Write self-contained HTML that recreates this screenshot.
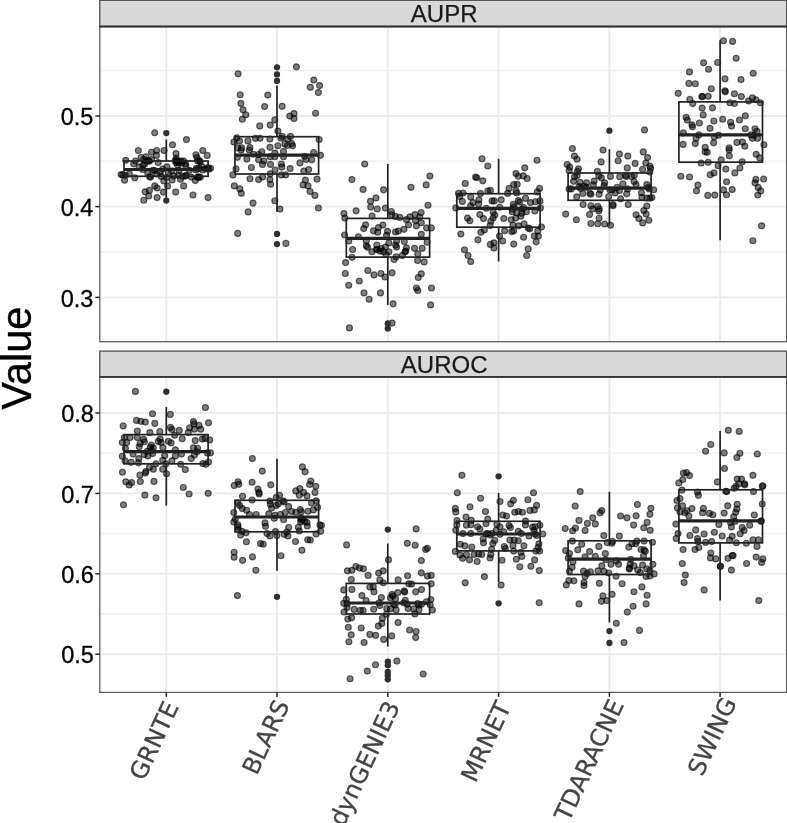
<!DOCTYPE html>
<html lang="en"><head><meta charset="utf-8"><title>AUPR / AUROC boxplots</title>
<style>html,body{margin:0;padding:0;background:#fff}svg{display:block}.ax{font-family:"Liberation Sans",Arial,Helvetica,sans-serif;fill:#000}.xl{font-family:"DejaVu Sans","Liberation Sans",sans-serif;fill:#444;font-size:24px;stroke:#444;stroke-width:.3}.gM{stroke:#ebebeb;stroke-width:1.9;fill:none}.gm{stroke:#f1f1f1;stroke-width:1.5;fill:none}.bx{stroke:#222;stroke-width:1.7;fill:none}.md{stroke:#222;stroke-width:3.2;fill:none}.pt{fill:#000;fill-opacity:.5;stroke:#000;stroke-opacity:.58;stroke-width:1.15}.ol{fill:#303030;stroke:none}.tk{stroke:#262626;stroke-width:1.5}</style></head><body>
<svg width="787" height="823" viewBox="0 0 787 823">
<rect width="787" height="823" fill="#fff"/>
<clipPath id="ca"><rect x="99.8" y="26.5" width="686.8000000000001" height="315.2"/></clipPath>
<g clip-path="url(#ca)">
<path class="gm" d="M99.8 252.0H786.6"/>
<path class="gm" d="M99.8 161.3H786.6"/>
<path class="gm" d="M99.8 70.6H786.6"/>
<path class="gM" d="M99.8 297.4H786.6"/>
<path class="gM" d="M99.8 206.6H786.6"/>
<path class="gM" d="M99.8 116.0H786.6"/>
<path class="gM" d="M166.3 26.5V341.7"/>
<path class="gM" d="M277.0 26.5V341.7"/>
<path class="gM" d="M387.8 26.5V341.7"/>
<path class="gM" d="M498.6 26.5V341.7"/>
<path class="gM" d="M609.4 26.5V341.7"/>
<path class="gM" d="M720.1 26.5V341.7"/>
<g class="pt"><circle cx="154.7" cy="132.7" r="3"/><circle cx="186.5" cy="139.6" r="3"/><circle cx="172.5" cy="144.7" r="3"/><circle cx="138.3" cy="150.5" r="3"/><circle cx="151.5" cy="152.2" r="3"/><circle cx="156.7" cy="150.5" r="3"/><circle cx="164.1" cy="150.5" r="3"/><circle cx="176.0" cy="153.6" r="3"/><circle cx="202.8" cy="150.5" r="3"/><circle cx="207.2" cy="155.4" r="3"/><circle cx="196.0" cy="154.7" r="3"/><circle cx="197.0" cy="157.5" r="3"/><circle cx="141.1" cy="157.5" r="3"/><circle cx="145.9" cy="156.8" r="3"/><circle cx="156.4" cy="155.4" r="3"/><circle cx="176.3" cy="158.2" r="3"/><circle cx="125.7" cy="160.3" r="3"/><circle cx="135.5" cy="161.0" r="3"/><circle cx="143.8" cy="159.6" r="3"/><circle cx="151.5" cy="159.6" r="3"/><circle cx="183.7" cy="161.0" r="3"/><circle cx="197.7" cy="161.0" r="3"/><circle cx="121.1" cy="174.6" r="3"/><circle cx="124.6" cy="180.2" r="3"/><circle cx="134.8" cy="177.8" r="3"/><circle cx="150.6" cy="177.1" r="3"/><circle cx="163.8" cy="181.0" r="3"/><circle cx="172.1" cy="179.9" r="3"/><circle cx="180.5" cy="179.2" r="3"/><circle cx="195.3" cy="180.6" r="3"/><circle cx="191.4" cy="177.1" r="3"/><circle cx="167.6" cy="185.9" r="3"/><circle cx="154.7" cy="185.9" r="3"/><circle cx="157.1" cy="188.0" r="3"/><circle cx="183.7" cy="185.9" r="3"/><circle cx="145.2" cy="191.8" r="3"/><circle cx="149.4" cy="190.4" r="3"/><circle cx="163.4" cy="192.1" r="3"/><circle cx="175.7" cy="192.1" r="3"/><circle cx="148.7" cy="196.0" r="3"/><circle cx="143.8" cy="200.2" r="3"/><circle cx="157.1" cy="197.6" r="3"/><circle cx="193.0" cy="195.0" r="3"/><circle cx="208.1" cy="197.6" r="3"/><circle cx="142.8" cy="169.5" r="3"/><circle cx="154.6" cy="170.6" r="3"/><circle cx="177.5" cy="161.1" r="3"/><circle cx="122.7" cy="174.7" r="3"/><circle cx="144.7" cy="164.1" r="3"/><circle cx="210.6" cy="168.2" r="3"/><circle cx="196.4" cy="168.3" r="3"/><circle cx="178.7" cy="162.6" r="3"/><circle cx="178.3" cy="175.2" r="3"/><circle cx="168.3" cy="173.0" r="3"/><circle cx="181.6" cy="161.1" r="3"/><circle cx="189.4" cy="170.3" r="3"/><circle cx="148.5" cy="160.5" r="3"/><circle cx="199.0" cy="168.3" r="3"/><circle cx="185.8" cy="175.4" r="3"/><circle cx="185.4" cy="176.1" r="3"/><circle cx="156.8" cy="174.0" r="3"/><circle cx="161.3" cy="176.4" r="3"/><circle cx="200.2" cy="161.7" r="3"/><circle cx="133.7" cy="163.8" r="3"/><circle cx="207.9" cy="167.6" r="3"/><circle cx="177.6" cy="165.3" r="3"/><circle cx="166.9" cy="166.8" r="3"/><circle cx="152.9" cy="170.2" r="3"/><circle cx="173.8" cy="175.8" r="3"/><circle cx="182.5" cy="176.3" r="3"/><circle cx="198.1" cy="177.3" r="3"/><circle cx="181.6" cy="162.9" r="3"/><circle cx="198.5" cy="176.9" r="3"/><circle cx="202.5" cy="170.0" r="3"/><circle cx="185.4" cy="163.7" r="3"/><circle cx="195.9" cy="170.0" r="3"/><circle cx="147.0" cy="161.1" r="3"/><circle cx="197.9" cy="177.3" r="3"/><circle cx="129.4" cy="174.0" r="3"/><circle cx="158.2" cy="162.6" r="3"/><circle cx="147.8" cy="173.5" r="3"/><circle cx="199.6" cy="160.8" r="3"/><circle cx="176.5" cy="160.8" r="3"/><circle cx="185.8" cy="165.8" r="3"/><circle cx="200.3" cy="177.2" r="3"/><circle cx="166.7" cy="177.5" r="3"/><circle cx="149.2" cy="161.3" r="3"/><circle cx="175.2" cy="160.5" r="3"/><circle cx="139.2" cy="167.1" r="3"/><circle cx="176.1" cy="162.7" r="3"/><circle cx="125.3" cy="175.2" r="3"/><circle cx="149.6" cy="176.8" r="3"/><circle cx="201.8" cy="166.6" r="3"/><circle cx="162.7" cy="169.1" r="3"/><circle cx="179.1" cy="170.4" r="3"/><circle cx="171.6" cy="170.9" r="3"/><circle cx="205.7" cy="168.9" r="3"/><circle cx="160.1" cy="172.6" r="3"/><circle cx="142.8" cy="165.3" r="3"/><circle cx="209.0" cy="169.1" r="3"/></g>
<g class="pt"><circle cx="296.4" cy="66.8" r="3"/><circle cx="238.1" cy="73.8" r="3"/><circle cx="313.8" cy="80.1" r="3"/><circle cx="319.6" cy="85.6" r="3"/><circle cx="310.3" cy="87.3" r="3"/><circle cx="318.4" cy="92.6" r="3"/><circle cx="240.2" cy="94.7" r="3"/><circle cx="267.8" cy="95.1" r="3"/><circle cx="240.9" cy="103.4" r="3"/><circle cx="264.6" cy="106.6" r="3"/><circle cx="282.1" cy="106.3" r="3"/><circle cx="243.0" cy="109.8" r="3"/><circle cx="245.8" cy="114.7" r="3"/><circle cx="315.6" cy="113.2" r="3"/><circle cx="294.0" cy="113.6" r="3"/><circle cx="289.8" cy="116.1" r="3"/><circle cx="294.0" cy="118.5" r="3"/><circle cx="242.3" cy="119.2" r="3"/><circle cx="274.8" cy="119.9" r="3"/><circle cx="259.7" cy="125.9" r="3"/><circle cx="270.2" cy="125.1" r="3"/><circle cx="277.9" cy="131.1" r="3"/><circle cx="282.1" cy="136.4" r="3"/><circle cx="290.5" cy="136.4" r="3"/><circle cx="236.7" cy="137.8" r="3"/><circle cx="255.5" cy="138.3" r="3"/><circle cx="260.0" cy="138.3" r="3"/><circle cx="269.9" cy="139.0" r="3"/><circle cx="319.1" cy="139.5" r="3"/><circle cx="233.9" cy="142.0" r="3"/><circle cx="239.5" cy="141.1" r="3"/><circle cx="247.9" cy="140.9" r="3"/><circle cx="284.9" cy="143.9" r="3"/><circle cx="277.9" cy="145.7" r="3"/><circle cx="292.6" cy="145.7" r="3"/><circle cx="241.6" cy="147.8" r="3"/><circle cx="250.0" cy="147.6" r="3"/><circle cx="241.1" cy="150.0" r="3"/><circle cx="249.3" cy="150.0" r="3"/><circle cx="261.8" cy="151.7" r="3"/><circle cx="274.8" cy="153.1" r="3"/><circle cx="283.5" cy="151.4" r="3"/><circle cx="313.6" cy="152.5" r="3"/><circle cx="253.4" cy="154.2" r="3"/><circle cx="258.6" cy="154.5" r="3"/><circle cx="237.4" cy="157.3" r="3"/><circle cx="246.9" cy="159.1" r="3"/><circle cx="258.6" cy="159.8" r="3"/><circle cx="263.9" cy="160.9" r="3"/><circle cx="262.5" cy="164.4" r="3"/><circle cx="270.5" cy="164.4" r="3"/><circle cx="251.4" cy="167.5" r="3"/><circle cx="236.0" cy="168.9" r="3"/><circle cx="281.4" cy="164.0" r="3"/><circle cx="281.8" cy="167.1" r="3"/><circle cx="275.1" cy="170.0" r="3"/><circle cx="290.1" cy="168.6" r="3"/><circle cx="299.9" cy="162.9" r="3"/><circle cx="305.9" cy="159.5" r="3"/><circle cx="311.7" cy="159.8" r="3"/><circle cx="303.8" cy="171.0" r="3"/><circle cx="308.7" cy="169.6" r="3"/><circle cx="270.2" cy="173.8" r="3"/><circle cx="281.4" cy="174.9" r="3"/><circle cx="285.6" cy="174.9" r="3"/><circle cx="270.2" cy="156.7" r="3"/><circle cx="274.8" cy="156.7" r="3"/><circle cx="283.5" cy="156.7" r="3"/><circle cx="304.5" cy="156.3" r="3"/><circle cx="320.5" cy="155.3" r="3"/><circle cx="232.9" cy="174.9" r="3"/><circle cx="250.0" cy="178.7" r="3"/><circle cx="258.6" cy="179.6" r="3"/><circle cx="262.5" cy="177.0" r="3"/><circle cx="269.9" cy="179.6" r="3"/><circle cx="270.5" cy="184.2" r="3"/><circle cx="305.4" cy="180.1" r="3"/><circle cx="317.0" cy="179.1" r="3"/><circle cx="303.1" cy="184.9" r="3"/><circle cx="308.0" cy="185.9" r="3"/><circle cx="234.3" cy="185.9" r="3"/><circle cx="239.8" cy="188.9" r="3"/><circle cx="241.3" cy="193.3" r="3"/><circle cx="310.1" cy="191.5" r="3"/><circle cx="314.9" cy="195.4" r="3"/><circle cx="274.8" cy="200.7" r="3"/><circle cx="253.0" cy="203.1" r="3"/><circle cx="280.0" cy="209.1" r="3"/><circle cx="318.4" cy="208.0" r="3"/><circle cx="248.1" cy="211.9" r="3"/><circle cx="237.7" cy="233.4" r="3"/><circle cx="285.9" cy="243.4" r="3"/><circle cx="281.0" cy="138.2" r="3"/><circle cx="270.0" cy="147.3" r="3"/><circle cx="237.6" cy="147.9" r="3"/><circle cx="287.8" cy="139.0" r="3"/><circle cx="287.4" cy="145.5" r="3"/><circle cx="291.7" cy="143.6" r="3"/></g>
<g class="pt"><circle cx="364.7" cy="164.0" r="3"/><circle cx="351.9" cy="179.6" r="3"/><circle cx="429.9" cy="176.1" r="3"/><circle cx="426.2" cy="184.9" r="3"/><circle cx="411.0" cy="187.3" r="3"/><circle cx="363.1" cy="189.4" r="3"/><circle cx="383.6" cy="189.8" r="3"/><circle cx="376.0" cy="197.9" r="3"/><circle cx="370.5" cy="201.3" r="3"/><circle cx="428.0" cy="205.2" r="3"/><circle cx="370.7" cy="207.0" r="3"/><circle cx="377.3" cy="209.0" r="3"/><circle cx="385.4" cy="208.0" r="3"/><circle cx="356.1" cy="210.8" r="3"/><circle cx="343.9" cy="213.6" r="3"/><circle cx="344.9" cy="218.1" r="3"/><circle cx="372.1" cy="216.1" r="3"/><circle cx="391.4" cy="211.5" r="3"/><circle cx="391.7" cy="214.7" r="3"/><circle cx="395.5" cy="216.4" r="3"/><circle cx="399.8" cy="217.4" r="3"/><circle cx="409.9" cy="216.8" r="3"/><circle cx="415.0" cy="214.6" r="3"/><circle cx="421.1" cy="212.5" r="3"/><circle cx="419.7" cy="217.1" r="3"/><circle cx="406.4" cy="219.5" r="3"/><circle cx="415.5" cy="220.6" r="3"/><circle cx="421.3" cy="222.7" r="3"/><circle cx="408.5" cy="224.8" r="3"/><circle cx="416.4" cy="225.8" r="3"/><circle cx="426.6" cy="227.9" r="3"/><circle cx="431.3" cy="227.9" r="3"/><circle cx="365.6" cy="224.8" r="3"/><circle cx="363.7" cy="228.6" r="3"/><circle cx="382.9" cy="225.1" r="3"/><circle cx="378.4" cy="227.6" r="3"/><circle cx="373.5" cy="230.8" r="3"/><circle cx="377.7" cy="232.2" r="3"/><circle cx="387.5" cy="231.3" r="3"/><circle cx="386.5" cy="235.3" r="3"/><circle cx="395.5" cy="232.0" r="3"/><circle cx="398.3" cy="231.1" r="3"/><circle cx="403.9" cy="229.3" r="3"/><circle cx="421.3" cy="234.3" r="3"/><circle cx="344.6" cy="235.0" r="3"/><circle cx="358.4" cy="236.7" r="3"/><circle cx="366.3" cy="240.9" r="3"/><circle cx="366.3" cy="245.7" r="3"/><circle cx="388.9" cy="242.9" r="3"/><circle cx="396.6" cy="240.9" r="3"/><circle cx="404.3" cy="241.6" r="3"/><circle cx="427.1" cy="242.2" r="3"/><circle cx="352.6" cy="249.5" r="3"/><circle cx="376.3" cy="249.5" r="3"/><circle cx="381.2" cy="248.5" r="3"/><circle cx="385.4" cy="247.1" r="3"/><circle cx="396.6" cy="247.1" r="3"/><circle cx="406.4" cy="247.8" r="3"/><circle cx="414.5" cy="248.3" r="3"/><circle cx="422.2" cy="248.3" r="3"/><circle cx="371.9" cy="251.7" r="3"/><circle cx="379.8" cy="251.1" r="3"/><circle cx="383.3" cy="251.7" r="3"/><circle cx="388.9" cy="251.7" r="3"/><circle cx="405.7" cy="251.1" r="3"/><circle cx="417.8" cy="253.9" r="3"/><circle cx="386.1" cy="254.5" r="3"/><circle cx="352.1" cy="257.3" r="3"/><circle cx="396.2" cy="256.7" r="3"/><circle cx="394.1" cy="259.5" r="3"/><circle cx="345.6" cy="262.6" r="3"/><circle cx="417.6" cy="260.5" r="3"/><circle cx="424.1" cy="261.9" r="3"/><circle cx="367.9" cy="270.5" r="3"/><circle cx="345.3" cy="273.5" r="3"/><circle cx="374.0" cy="274.9" r="3"/><circle cx="380.9" cy="273.5" r="3"/><circle cx="385.0" cy="277.0" r="3"/><circle cx="392.1" cy="272.8" r="3"/><circle cx="421.3" cy="273.8" r="3"/><circle cx="418.3" cy="277.5" r="3"/><circle cx="359.3" cy="281.0" r="3"/><circle cx="348.7" cy="285.2" r="3"/><circle cx="364.0" cy="292.9" r="3"/><circle cx="380.5" cy="292.9" r="3"/><circle cx="416.4" cy="288.0" r="3"/><circle cx="417.8" cy="290.5" r="3"/><circle cx="431.5" cy="288.0" r="3"/><circle cx="369.1" cy="299.2" r="3"/><circle cx="393.1" cy="303.8" r="3"/><circle cx="430.6" cy="304.9" r="3"/><circle cx="392.1" cy="323.1" r="3"/><circle cx="349.4" cy="327.9" r="3"/><circle cx="405.0" cy="251.8" r="3"/><circle cx="348.8" cy="241.0" r="3"/><circle cx="402.4" cy="255.4" r="3"/><circle cx="367.6" cy="247.3" r="3"/><circle cx="395.6" cy="245.1" r="3"/><circle cx="376.8" cy="245.0" r="3"/><circle cx="377.3" cy="249.5" r="3"/></g>
<g class="pt"><circle cx="482.0" cy="158.7" r="3"/><circle cx="537.0" cy="160.2" r="3"/><circle cx="487.8" cy="166.0" r="3"/><circle cx="524.8" cy="167.8" r="3"/><circle cx="516.0" cy="173.6" r="3"/><circle cx="518.3" cy="176.2" r="3"/><circle cx="523.3" cy="175.8" r="3"/><circle cx="527.1" cy="178.5" r="3"/><circle cx="475.6" cy="177.0" r="3"/><circle cx="476.8" cy="177.7" r="3"/><circle cx="482.8" cy="180.8" r="3"/><circle cx="465.2" cy="183.4" r="3"/><circle cx="513.7" cy="184.6" r="3"/><circle cx="517.2" cy="184.3" r="3"/><circle cx="509.1" cy="188.4" r="3"/><circle cx="516.0" cy="190.7" r="3"/><circle cx="516.8" cy="193.0" r="3"/><circle cx="539.6" cy="188.4" r="3"/><circle cx="537.3" cy="191.9" r="3"/><circle cx="487.8" cy="191.0" r="3"/><circle cx="490.4" cy="190.4" r="3"/><circle cx="480.5" cy="193.4" r="3"/><circle cx="507.6" cy="193.4" r="3"/><circle cx="458.5" cy="193.4" r="3"/><circle cx="463.1" cy="193.0" r="3"/><circle cx="459.6" cy="196.5" r="3"/><circle cx="470.7" cy="197.1" r="3"/><circle cx="462.3" cy="201.4" r="3"/><circle cx="478.9" cy="199.8" r="3"/><circle cx="472.9" cy="202.6" r="3"/><circle cx="478.6" cy="204.1" r="3"/><circle cx="470.6" cy="205.9" r="3"/><circle cx="455.8" cy="207.9" r="3"/><circle cx="492.1" cy="200.9" r="3"/><circle cx="494.2" cy="200.9" r="3"/><circle cx="501.2" cy="199.8" r="3"/><circle cx="518.3" cy="200.6" r="3"/><circle cx="519.8" cy="202.1" r="3"/><circle cx="525.5" cy="198.3" r="3"/><circle cx="530.5" cy="202.6" r="3"/><circle cx="535.5" cy="201.7" r="3"/><circle cx="539.9" cy="200.9" r="3"/><circle cx="513.3" cy="204.4" r="3"/><circle cx="514.2" cy="206.7" r="3"/><circle cx="512.2" cy="209.0" r="3"/><circle cx="499.7" cy="207.2" r="3"/><circle cx="486.3" cy="208.2" r="3"/><circle cx="523.6" cy="207.5" r="3"/><circle cx="522.1" cy="209.0" r="3"/><circle cx="540.4" cy="207.9" r="3"/><circle cx="534.8" cy="211.0" r="3"/><circle cx="526.4" cy="211.7" r="3"/><circle cx="521.8" cy="213.3" r="3"/><circle cx="516.8" cy="212.8" r="3"/><circle cx="512.2" cy="211.7" r="3"/><circle cx="493.1" cy="212.0" r="3"/><circle cx="494.7" cy="215.1" r="3"/><circle cx="493.1" cy="218.1" r="3"/><circle cx="490.8" cy="221.2" r="3"/><circle cx="479.9" cy="214.6" r="3"/><circle cx="483.5" cy="218.6" r="3"/><circle cx="467.5" cy="218.1" r="3"/><circle cx="469.8" cy="220.7" r="3"/><circle cx="503.8" cy="218.6" r="3"/><circle cx="511.1" cy="219.7" r="3"/><circle cx="515.7" cy="218.1" r="3"/><circle cx="520.9" cy="216.2" r="3"/><circle cx="490.1" cy="225.5" r="3"/><circle cx="513.0" cy="225.0" r="3"/><circle cx="518.7" cy="225.8" r="3"/><circle cx="524.1" cy="223.9" r="3"/><circle cx="528.2" cy="228.1" r="3"/><circle cx="529.7" cy="228.8" r="3"/><circle cx="541.5" cy="227.0" r="3"/><circle cx="537.8" cy="231.1" r="3"/><circle cx="484.4" cy="229.9" r="3"/><circle cx="480.9" cy="232.3" r="3"/><circle cx="460.8" cy="234.1" r="3"/><circle cx="504.6" cy="230.8" r="3"/><circle cx="511.7" cy="231.6" r="3"/><circle cx="513.7" cy="230.8" r="3"/><circle cx="499.5" cy="236.1" r="3"/><circle cx="523.6" cy="237.2" r="3"/><circle cx="534.3" cy="236.1" r="3"/><circle cx="538.4" cy="236.1" r="3"/><circle cx="536.1" cy="241.8" r="3"/><circle cx="477.9" cy="239.8" r="3"/><circle cx="502.7" cy="241.0" r="3"/><circle cx="513.7" cy="244.1" r="3"/><circle cx="490.4" cy="244.4" r="3"/><circle cx="493.9" cy="242.8" r="3"/><circle cx="493.9" cy="247.9" r="3"/><circle cx="464.5" cy="249.7" r="3"/><circle cx="528.2" cy="248.9" r="3"/><circle cx="468.0" cy="255.5" r="3"/><circle cx="526.7" cy="255.5" r="3"/><circle cx="470.7" cy="261.6" r="3"/></g>
<g class="pt"><circle cx="644.5" cy="129.9" r="3"/><circle cx="572.4" cy="148.5" r="3"/><circle cx="603.1" cy="150.0" r="3"/><circle cx="643.3" cy="151.9" r="3"/><circle cx="619.4" cy="154.1" r="3"/><circle cx="627.8" cy="156.1" r="3"/><circle cx="574.4" cy="156.1" r="3"/><circle cx="577.1" cy="159.2" r="3"/><circle cx="647.6" cy="157.6" r="3"/><circle cx="601.1" cy="161.9" r="3"/><circle cx="618.2" cy="160.7" r="3"/><circle cx="635.1" cy="163.4" r="3"/><circle cx="645.8" cy="163.0" r="3"/><circle cx="567.2" cy="164.5" r="3"/><circle cx="569.8" cy="167.1" r="3"/><circle cx="578.5" cy="168.8" r="3"/><circle cx="627.3" cy="167.9" r="3"/><circle cx="642.6" cy="169.4" r="3"/><circle cx="649.9" cy="166.0" r="3"/><circle cx="650.6" cy="168.3" r="3"/><circle cx="569.1" cy="170.6" r="3"/><circle cx="577.4" cy="171.4" r="3"/><circle cx="597.3" cy="171.4" r="3"/><circle cx="649.9" cy="172.1" r="3"/><circle cx="574.4" cy="176.7" r="3"/><circle cx="577.1" cy="175.6" r="3"/><circle cx="598.8" cy="175.9" r="3"/><circle cx="601.4" cy="177.8" r="3"/><circle cx="610.5" cy="176.4" r="3"/><circle cx="619.7" cy="176.7" r="3"/><circle cx="625.5" cy="175.2" r="3"/><circle cx="626.2" cy="176.4" r="3"/><circle cx="634.3" cy="175.2" r="3"/><circle cx="573.6" cy="181.3" r="3"/><circle cx="580.0" cy="182.3" r="3"/><circle cx="586.6" cy="182.8" r="3"/><circle cx="604.6" cy="182.8" r="3"/><circle cx="604.1" cy="185.5" r="3"/><circle cx="622.9" cy="183.9" r="3"/><circle cx="636.1" cy="184.6" r="3"/><circle cx="646.8" cy="184.6" r="3"/><circle cx="648.3" cy="187.4" r="3"/><circle cx="569.1" cy="188.9" r="3"/><circle cx="571.3" cy="188.9" r="3"/><circle cx="579.0" cy="186.6" r="3"/><circle cx="580.5" cy="188.4" r="3"/><circle cx="586.1" cy="187.4" r="3"/><circle cx="600.3" cy="190.0" r="3"/><circle cx="609.9" cy="189.7" r="3"/><circle cx="612.1" cy="190.0" r="3"/><circle cx="617.1" cy="187.4" r="3"/><circle cx="619.4" cy="190.4" r="3"/><circle cx="627.5" cy="188.9" r="3"/><circle cx="649.1" cy="188.9" r="3"/><circle cx="653.7" cy="189.7" r="3"/><circle cx="582.8" cy="193.5" r="3"/><circle cx="589.9" cy="193.2" r="3"/><circle cx="590.9" cy="194.2" r="3"/><circle cx="599.1" cy="194.2" r="3"/><circle cx="626.7" cy="193.8" r="3"/><circle cx="641.5" cy="192.7" r="3"/><circle cx="576.7" cy="196.8" r="3"/><circle cx="608.7" cy="196.5" r="3"/><circle cx="620.6" cy="198.8" r="3"/><circle cx="641.9" cy="197.3" r="3"/><circle cx="646.8" cy="198.1" r="3"/><circle cx="649.9" cy="198.1" r="3"/><circle cx="651.9" cy="197.6" r="3"/><circle cx="583.1" cy="204.5" r="3"/><circle cx="590.9" cy="205.7" r="3"/><circle cx="597.7" cy="206.4" r="3"/><circle cx="599.3" cy="209.0" r="3"/><circle cx="592.7" cy="209.0" r="3"/><circle cx="598.8" cy="211.0" r="3"/><circle cx="613.0" cy="204.5" r="3"/><circle cx="613.0" cy="205.7" r="3"/><circle cx="628.2" cy="204.5" r="3"/><circle cx="646.8" cy="206.0" r="3"/><circle cx="643.8" cy="210.6" r="3"/><circle cx="646.1" cy="214.1" r="3"/><circle cx="565.7" cy="214.1" r="3"/><circle cx="589.6" cy="214.5" r="3"/><circle cx="636.1" cy="214.8" r="3"/><circle cx="638.9" cy="218.6" r="3"/><circle cx="576.4" cy="219.7" r="3"/><circle cx="599.1" cy="218.2" r="3"/><circle cx="648.8" cy="220.2" r="3"/><circle cx="590.9" cy="223.5" r="3"/><circle cx="597.7" cy="223.7" r="3"/><circle cx="604.6" cy="224.0" r="3"/><circle cx="610.5" cy="225.2" r="3"/><circle cx="642.7" cy="222.9" r="3"/><circle cx="593.3" cy="184.7" r="3"/><circle cx="631.6" cy="176.6" r="3"/><circle cx="615.1" cy="192.9" r="3"/><circle cx="594.1" cy="181.1" r="3"/><circle cx="634.1" cy="181.5" r="3"/><circle cx="584.2" cy="186.0" r="3"/></g>
<g class="pt"><circle cx="723.5" cy="40.7" r="3"/><circle cx="732.6" cy="41.4" r="3"/><circle cx="736.1" cy="58.2" r="3"/><circle cx="703.6" cy="62.8" r="3"/><circle cx="717.7" cy="62.5" r="3"/><circle cx="708.5" cy="69.2" r="3"/><circle cx="689.5" cy="71.9" r="3"/><circle cx="753.2" cy="73.2" r="3"/><circle cx="725.0" cy="78.8" r="3"/><circle cx="741.0" cy="79.6" r="3"/><circle cx="688.9" cy="83.4" r="3"/><circle cx="695.3" cy="83.7" r="3"/><circle cx="711.3" cy="88.7" r="3"/><circle cx="678.2" cy="93.3" r="3"/><circle cx="725.0" cy="90.7" r="3"/><circle cx="725.3" cy="91.8" r="3"/><circle cx="734.4" cy="93.7" r="3"/><circle cx="741.3" cy="96.6" r="3"/><circle cx="701.8" cy="96.6" r="3"/><circle cx="702.6" cy="96.6" r="3"/><circle cx="708.2" cy="96.3" r="3"/><circle cx="689.9" cy="99.4" r="3"/><circle cx="752.4" cy="97.9" r="3"/><circle cx="755.9" cy="99.7" r="3"/><circle cx="748.6" cy="100.9" r="3"/><circle cx="760.4" cy="102.7" r="3"/><circle cx="729.9" cy="102.7" r="3"/><circle cx="734.4" cy="103.5" r="3"/><circle cx="692.7" cy="103.6" r="3"/><circle cx="702.1" cy="108.1" r="3"/><circle cx="712.5" cy="107.8" r="3"/><circle cx="703.2" cy="114.9" r="3"/><circle cx="686.1" cy="117.2" r="3"/><circle cx="687.3" cy="120.0" r="3"/><circle cx="745.3" cy="115.8" r="3"/><circle cx="722.7" cy="119.2" r="3"/><circle cx="713.9" cy="121.0" r="3"/><circle cx="739.5" cy="120.0" r="3"/><circle cx="730.6" cy="122.2" r="3"/><circle cx="731.5" cy="126.1" r="3"/><circle cx="699.4" cy="123.0" r="3"/><circle cx="691.9" cy="124.8" r="3"/><circle cx="692.5" cy="126.8" r="3"/><circle cx="710.0" cy="128.3" r="3"/><circle cx="745.3" cy="128.7" r="3"/><circle cx="755.0" cy="128.7" r="3"/><circle cx="757.0" cy="131.4" r="3"/><circle cx="683.4" cy="132.9" r="3"/><circle cx="698.8" cy="134.9" r="3"/><circle cx="718.6" cy="135.2" r="3"/><circle cx="750.9" cy="134.9" r="3"/><circle cx="754.0" cy="135.2" r="3"/><circle cx="714.3" cy="136.7" r="3"/><circle cx="696.0" cy="138.3" r="3"/><circle cx="752.4" cy="138.3" r="3"/><circle cx="757.5" cy="138.3" r="3"/><circle cx="683.1" cy="144.4" r="3"/><circle cx="695.3" cy="143.6" r="3"/><circle cx="713.6" cy="142.8" r="3"/><circle cx="736.9" cy="142.4" r="3"/><circle cx="742.5" cy="142.1" r="3"/><circle cx="744.8" cy="146.2" r="3"/><circle cx="763.9" cy="144.7" r="3"/><circle cx="705.2" cy="147.4" r="3"/><circle cx="729.1" cy="147.9" r="3"/><circle cx="705.2" cy="151.8" r="3"/><circle cx="707.2" cy="152.3" r="3"/><circle cx="729.1" cy="150.0" r="3"/><circle cx="729.3" cy="155.8" r="3"/><circle cx="756.2" cy="154.3" r="3"/><circle cx="759.8" cy="157.9" r="3"/><circle cx="721.2" cy="159.9" r="3"/><circle cx="701.1" cy="163.0" r="3"/><circle cx="708.2" cy="162.2" r="3"/><circle cx="742.2" cy="161.7" r="3"/><circle cx="718.1" cy="165.7" r="3"/><circle cx="725.8" cy="169.1" r="3"/><circle cx="739.9" cy="168.0" r="3"/><circle cx="734.9" cy="172.9" r="3"/><circle cx="714.0" cy="172.9" r="3"/><circle cx="710.2" cy="174.7" r="3"/><circle cx="680.8" cy="176.2" r="3"/><circle cx="689.6" cy="177.0" r="3"/><circle cx="726.5" cy="181.7" r="3"/><circle cx="755.9" cy="179.4" r="3"/><circle cx="763.6" cy="179.0" r="3"/><circle cx="755.0" cy="182.8" r="3"/><circle cx="697.9" cy="185.1" r="3"/><circle cx="758.2" cy="187.4" r="3"/><circle cx="696.5" cy="190.7" r="3"/><circle cx="723.5" cy="189.9" r="3"/><circle cx="732.2" cy="189.6" r="3"/><circle cx="760.8" cy="190.9" r="3"/><circle cx="726.5" cy="194.7" r="3"/><circle cx="757.8" cy="195.0" r="3"/><circle cx="707.8" cy="195.4" r="3"/><circle cx="714.8" cy="195.1" r="3"/><circle cx="761.6" cy="225.8" r="3"/><circle cx="752.9" cy="240.7" r="3"/></g>
<path class="bx" d="M166.3 139.5V161.0M166.3 176.3V199.4"/>
<rect class="bx" x="124.0" y="161.0" width="84.1" height="15.3"/>
<path class="md" d="M124.0 169.5H208.1"/>
<circle class="ol" cx="166.3" cy="133.1" r="3.15"/>
<circle class="ol" cx="166.3" cy="200.6" r="3.15"/>
<path class="bx" d="M277.0 85.5V136.7M277.0 174.0V211.7"/>
<rect class="bx" x="235.0" y="136.7" width="83.6" height="37.3"/>
<path class="md" d="M235.0 155.2H318.6"/>
<circle class="ol" cx="277.0" cy="67.3" r="3.15"/>
<circle class="ol" cx="277.0" cy="74.4" r="3.15"/>
<circle class="ol" cx="277.0" cy="80.9" r="3.15"/>
<circle class="ol" cx="277.0" cy="233.9" r="3.15"/>
<circle class="ol" cx="277.0" cy="244.1" r="3.15"/>
<path class="bx" d="M387.8 164.0V218.4M387.8 257.1V304.9"/>
<rect class="bx" x="346.3" y="218.4" width="83.3" height="38.7"/>
<path class="md" d="M346.3 238.4H429.6"/>
<circle class="ol" cx="387.8" cy="323.5" r="3.15"/>
<circle class="ol" cx="387.8" cy="328.4" r="3.15"/>
<path class="bx" d="M498.6 158.8V193.7M498.6 227.2V261.6"/>
<rect class="bx" x="456.8" y="193.7" width="83.3" height="33.5"/>
<path class="md" d="M456.8 208.3H540.1"/>
<path class="bx" d="M609.4 149.2V173.0M609.4 200.3V225.7"/>
<rect class="bx" x="568.1" y="173.0" width="83.0" height="27.3"/>
<path class="md" d="M568.1 188.2H651.1"/>
<circle class="ol" cx="609.4" cy="130.7" r="3.15"/>
<path class="bx" d="M720.1 40.2V101.9M720.1 162.2V240.3"/>
<rect class="bx" x="678.9" y="101.9" width="83.6" height="60.3"/>
<path class="md" d="M678.9 134.9H762.5"/>
</g>
<rect x="99.8" y="26.5" width="686.8000000000001" height="315.2" fill="none" stroke="#5a5a5a" stroke-width="1.25"/>
<rect x="99.8" y="0.3" width="686.8000000000001" height="26.2" fill="#d9d9d9" stroke="#505050" stroke-width="1.3"/>
<path d="M99.2 26.5H787.2" stroke="#333" stroke-width="1.8" fill="none"/>
<text class="ax" x="444.2" y="22.1" text-anchor="middle" font-size="24" style="fill:#1a1a1a;stroke:#1a1a1a;stroke-width:.25">AUPR</text>
<clipPath id="cb"><rect x="99.8" y="376.8" width="686.8000000000001" height="315.59999999999997"/></clipPath>
<g clip-path="url(#cb)">
<path class="gm" d="M99.8 614.0H786.6"/>
<path class="gm" d="M99.8 533.6H786.6"/>
<path class="gm" d="M99.8 453.2H786.6"/>
<path class="gM" d="M99.8 654.2H786.6"/>
<path class="gM" d="M99.8 573.8H786.6"/>
<path class="gM" d="M99.8 493.4H786.6"/>
<path class="gM" d="M99.8 413.0H786.6"/>
<path class="gM" d="M166.3 376.8V692.4"/>
<path class="gM" d="M277.0 376.8V692.4"/>
<path class="gM" d="M387.8 376.8V692.4"/>
<path class="gM" d="M498.6 376.8V692.4"/>
<path class="gM" d="M609.4 376.8V692.4"/>
<path class="gM" d="M720.1 376.8V692.4"/>
<g class="pt"><circle cx="135.4" cy="391.4" r="3"/><circle cx="205.4" cy="407.6" r="3"/><circle cx="152.5" cy="413.7" r="3"/><circle cx="170.3" cy="414.4" r="3"/><circle cx="136.5" cy="420.4" r="3"/><circle cx="140.8" cy="421.3" r="3"/><circle cx="145.3" cy="422.1" r="3"/><circle cx="154.8" cy="423.4" r="3"/><circle cx="123.2" cy="425.9" r="3"/><circle cx="193.4" cy="421.6" r="3"/><circle cx="194.1" cy="423.9" r="3"/><circle cx="199.0" cy="425.4" r="3"/><circle cx="208.5" cy="422.8" r="3"/><circle cx="189.6" cy="427.7" r="3"/><circle cx="194.4" cy="429.2" r="3"/><circle cx="200.8" cy="429.2" r="3"/><circle cx="170.5" cy="427.4" r="3"/><circle cx="171.9" cy="429.5" r="3"/><circle cx="179.2" cy="430.4" r="3"/><circle cx="137.3" cy="431.0" r="3"/><circle cx="149.9" cy="432.6" r="3"/><circle cx="159.8" cy="431.5" r="3"/><circle cx="188.3" cy="432.6" r="3"/><circle cx="174.6" cy="435.3" r="3"/><circle cx="124.3" cy="437.6" r="3"/><circle cx="130.1" cy="437.6" r="3"/><circle cx="137.3" cy="437.6" r="3"/><circle cx="160.1" cy="439.1" r="3"/><circle cx="158.3" cy="441.4" r="3"/><circle cx="161.2" cy="442.6" r="3"/><circle cx="144.4" cy="441.7" r="3"/><circle cx="122.3" cy="442.6" r="3"/><circle cx="126.6" cy="442.6" r="3"/><circle cx="171.1" cy="442.9" r="3"/><circle cx="202.4" cy="439.1" r="3"/><circle cx="205.1" cy="438.4" r="3"/><circle cx="209.7" cy="439.9" r="3"/><circle cx="139.2" cy="446.8" r="3"/><circle cx="150.2" cy="447.2" r="3"/><circle cx="153.3" cy="447.8" r="3"/><circle cx="162.9" cy="447.5" r="3"/><circle cx="125.4" cy="448.3" r="3"/><circle cx="175.4" cy="449.8" r="3"/><circle cx="147.2" cy="451.3" r="3"/><circle cx="151.7" cy="450.6" r="3"/><circle cx="197.0" cy="451.8" r="3"/><circle cx="207.4" cy="452.9" r="3"/><circle cx="210.4" cy="452.9" r="3"/><circle cx="133.1" cy="454.1" r="3"/><circle cx="144.1" cy="454.4" r="3"/><circle cx="147.9" cy="455.9" r="3"/><circle cx="164.7" cy="455.6" r="3"/><circle cx="175.4" cy="455.9" r="3"/><circle cx="181.5" cy="454.1" r="3"/><circle cx="194.4" cy="455.1" r="3"/><circle cx="122.3" cy="456.2" r="3"/><circle cx="138.8" cy="458.6" r="3"/><circle cx="162.7" cy="460.2" r="3"/><circle cx="171.9" cy="460.8" r="3"/><circle cx="125.1" cy="460.8" r="3"/><circle cx="131.2" cy="462.3" r="3"/><circle cx="138.5" cy="462.8" r="3"/><circle cx="155.9" cy="463.8" r="3"/><circle cx="165.8" cy="463.8" r="3"/><circle cx="180.7" cy="464.3" r="3"/><circle cx="202.8" cy="463.5" r="3"/><circle cx="205.9" cy="464.3" r="3"/><circle cx="208.5" cy="462.0" r="3"/><circle cx="149.5" cy="467.3" r="3"/><circle cx="153.3" cy="469.2" r="3"/><circle cx="162.7" cy="469.2" r="3"/><circle cx="185.3" cy="469.6" r="3"/><circle cx="145.9" cy="471.6" r="3"/><circle cx="145.3" cy="473.1" r="3"/><circle cx="139.9" cy="475.0" r="3"/><circle cx="166.5" cy="473.7" r="3"/><circle cx="122.5" cy="472.2" r="3"/><circle cx="125.8" cy="481.8" r="3"/><circle cx="131.6" cy="482.6" r="3"/><circle cx="129.2" cy="484.9" r="3"/><circle cx="140.3" cy="481.5" r="3"/><circle cx="154.0" cy="481.4" r="3"/><circle cx="183.3" cy="487.5" r="3"/><circle cx="189.1" cy="494.0" r="3"/><circle cx="208.2" cy="493.3" r="3"/><circle cx="144.9" cy="495.1" r="3"/><circle cx="156.0" cy="497.8" r="3"/><circle cx="123.5" cy="504.7" r="3"/><circle cx="182.2" cy="438.7" r="3"/><circle cx="151.4" cy="445.0" r="3"/><circle cx="193.4" cy="447.8" r="3"/><circle cx="195.2" cy="440.6" r="3"/><circle cx="152.6" cy="453.6" r="3"/><circle cx="197.6" cy="448.2" r="3"/><circle cx="143.5" cy="439.3" r="3"/><circle cx="168.4" cy="441.2" r="3"/><circle cx="191.2" cy="458.6" r="3"/><circle cx="140.1" cy="443.5" r="3"/></g>
<g class="pt"><circle cx="252.4" cy="458.6" r="3"/><circle cx="302.4" cy="466.9" r="3"/><circle cx="305.1" cy="471.8" r="3"/><circle cx="262.3" cy="471.1" r="3"/><circle cx="238.0" cy="481.7" r="3"/><circle cx="238.8" cy="484.3" r="3"/><circle cx="234.2" cy="485.5" r="3"/><circle cx="252.1" cy="482.2" r="3"/><circle cx="270.8" cy="484.8" r="3"/><circle cx="310.8" cy="481.0" r="3"/><circle cx="309.6" cy="484.5" r="3"/><circle cx="315.8" cy="486.3" r="3"/><circle cx="257.9" cy="489.1" r="3"/><circle cx="258.9" cy="492.4" r="3"/><circle cx="259.2" cy="493.9" r="3"/><circle cx="295.8" cy="490.9" r="3"/><circle cx="299.8" cy="488.6" r="3"/><circle cx="303.6" cy="492.4" r="3"/><circle cx="299.3" cy="495.2" r="3"/><circle cx="307.0" cy="495.9" r="3"/><circle cx="315.0" cy="492.4" r="3"/><circle cx="242.5" cy="496.2" r="3"/><circle cx="252.1" cy="500.0" r="3"/><circle cx="279.5" cy="495.2" r="3"/><circle cx="276.2" cy="497.4" r="3"/><circle cx="269.9" cy="501.1" r="3"/><circle cx="283.0" cy="500.8" r="3"/><circle cx="284.1" cy="501.9" r="3"/><circle cx="237.6" cy="503.1" r="3"/><circle cx="239.6" cy="505.4" r="3"/><circle cx="242.2" cy="508.4" r="3"/><circle cx="270.4" cy="504.3" r="3"/><circle cx="271.6" cy="508.1" r="3"/><circle cx="276.2" cy="505.4" r="3"/><circle cx="278.4" cy="503.8" r="3"/><circle cx="288.7" cy="506.6" r="3"/><circle cx="311.5" cy="503.1" r="3"/><circle cx="316.1" cy="500.8" r="3"/><circle cx="317.6" cy="507.3" r="3"/><circle cx="313.4" cy="509.9" r="3"/><circle cx="308.0" cy="511.2" r="3"/><circle cx="233.8" cy="512.5" r="3"/><circle cx="249.5" cy="514.5" r="3"/><circle cx="256.2" cy="514.5" r="3"/><circle cx="268.8" cy="513.8" r="3"/><circle cx="274.9" cy="515.3" r="3"/><circle cx="280.3" cy="514.5" r="3"/><circle cx="285.3" cy="512.5" r="3"/><circle cx="291.7" cy="511.5" r="3"/><circle cx="295.8" cy="512.2" r="3"/><circle cx="274.2" cy="518.3" r="3"/><circle cx="283.6" cy="519.5" r="3"/><circle cx="300.6" cy="517.9" r="3"/><circle cx="302.4" cy="519.1" r="3"/><circle cx="304.7" cy="521.4" r="3"/><circle cx="307.0" cy="522.6" r="3"/><circle cx="307.3" cy="526.0" r="3"/><circle cx="300.6" cy="522.1" r="3"/><circle cx="235.3" cy="519.1" r="3"/><circle cx="233.8" cy="522.1" r="3"/><circle cx="237.9" cy="524.9" r="3"/><circle cx="237.9" cy="526.7" r="3"/><circle cx="238.3" cy="529.5" r="3"/><circle cx="265.0" cy="522.9" r="3"/><circle cx="265.5" cy="526.3" r="3"/><circle cx="288.7" cy="527.5" r="3"/><circle cx="298.3" cy="527.2" r="3"/><circle cx="299.3" cy="531.0" r="3"/><circle cx="319.9" cy="524.7" r="3"/><circle cx="321.4" cy="525.6" r="3"/><circle cx="320.7" cy="531.3" r="3"/><circle cx="241.9" cy="531.3" r="3"/><circle cx="246.0" cy="532.8" r="3"/><circle cx="240.6" cy="535.1" r="3"/><circle cx="267.0" cy="533.6" r="3"/><circle cx="269.9" cy="535.9" r="3"/><circle cx="275.4" cy="531.6" r="3"/><circle cx="276.9" cy="535.6" r="3"/><circle cx="284.1" cy="534.3" r="3"/><circle cx="286.8" cy="532.1" r="3"/><circle cx="287.9" cy="535.9" r="3"/><circle cx="316.1" cy="533.9" r="3"/><circle cx="246.4" cy="541.7" r="3"/><circle cx="260.5" cy="543.5" r="3"/><circle cx="263.2" cy="544.2" r="3"/><circle cx="295.5" cy="541.5" r="3"/><circle cx="307.7" cy="539.7" r="3"/><circle cx="310.3" cy="540.0" r="3"/><circle cx="301.9" cy="550.3" r="3"/><circle cx="234.1" cy="552.2" r="3"/><circle cx="234.1" cy="557.2" r="3"/><circle cx="252.5" cy="556.9" r="3"/><circle cx="281.0" cy="555.7" r="3"/><circle cx="242.6" cy="560.3" r="3"/><circle cx="255.9" cy="570.2" r="3"/><circle cx="237.4" cy="595.6" r="3"/><circle cx="301.4" cy="520.0" r="3"/><circle cx="301.3" cy="511.7" r="3"/><circle cx="246.5" cy="510.2" r="3"/><circle cx="300.3" cy="509.6" r="3"/></g>
<g class="pt"><circle cx="416.1" cy="528.9" r="3"/><circle cx="346.6" cy="544.9" r="3"/><circle cx="407.3" cy="543.3" r="3"/><circle cx="415.2" cy="545.2" r="3"/><circle cx="425.6" cy="549.4" r="3"/><circle cx="427.4" cy="548.2" r="3"/><circle cx="388.5" cy="559.8" r="3"/><circle cx="421.3" cy="560.6" r="3"/><circle cx="355.9" cy="566.5" r="3"/><circle cx="359.6" cy="568.0" r="3"/><circle cx="363.4" cy="568.8" r="3"/><circle cx="347.4" cy="570.8" r="3"/><circle cx="351.9" cy="570.3" r="3"/><circle cx="383.2" cy="570.8" r="3"/><circle cx="378.6" cy="573.1" r="3"/><circle cx="368.1" cy="575.4" r="3"/><circle cx="421.3" cy="572.8" r="3"/><circle cx="407.6" cy="575.7" r="3"/><circle cx="427.4" cy="576.1" r="3"/><circle cx="431.2" cy="575.4" r="3"/><circle cx="351.3" cy="579.5" r="3"/><circle cx="379.8" cy="579.9" r="3"/><circle cx="383.2" cy="582.7" r="3"/><circle cx="398.1" cy="579.9" r="3"/><circle cx="408.8" cy="583.8" r="3"/><circle cx="411.6" cy="584.1" r="3"/><circle cx="431.2" cy="583.8" r="3"/><circle cx="343.7" cy="589.9" r="3"/><circle cx="351.9" cy="589.4" r="3"/><circle cx="369.9" cy="587.1" r="3"/><circle cx="373.3" cy="586.8" r="3"/><circle cx="374.0" cy="591.8" r="3"/><circle cx="404.2" cy="590.9" r="3"/><circle cx="404.7" cy="592.1" r="3"/><circle cx="397.8" cy="592.6" r="3"/><circle cx="415.7" cy="591.8" r="3"/><circle cx="421.5" cy="589.5" r="3"/><circle cx="361.9" cy="595.6" r="3"/><circle cx="381.4" cy="597.5" r="3"/><circle cx="392.0" cy="594.4" r="3"/><circle cx="392.8" cy="596.0" r="3"/><circle cx="395.5" cy="598.7" r="3"/><circle cx="390.5" cy="597.8" r="3"/><circle cx="346.3" cy="599.3" r="3"/><circle cx="366.1" cy="600.5" r="3"/><circle cx="405.3" cy="600.2" r="3"/><circle cx="430.9" cy="599.5" r="3"/><circle cx="343.7" cy="603.3" r="3"/><circle cx="347.1" cy="603.6" r="3"/><circle cx="379.1" cy="602.8" r="3"/><circle cx="379.8" cy="605.6" r="3"/><circle cx="393.6" cy="604.3" r="3"/><circle cx="395.1" cy="605.1" r="3"/><circle cx="403.8" cy="602.8" r="3"/><circle cx="407.3" cy="604.3" r="3"/><circle cx="417.7" cy="603.6" r="3"/><circle cx="419.0" cy="605.1" r="3"/><circle cx="421.5" cy="604.3" r="3"/><circle cx="426.3" cy="601.7" r="3"/><circle cx="430.2" cy="604.8" r="3"/><circle cx="347.1" cy="607.4" r="3"/><circle cx="354.2" cy="609.4" r="3"/><circle cx="360.3" cy="610.4" r="3"/><circle cx="363.1" cy="610.4" r="3"/><circle cx="373.7" cy="609.2" r="3"/><circle cx="386.7" cy="608.5" r="3"/><circle cx="390.5" cy="608.9" r="3"/><circle cx="396.2" cy="610.0" r="3"/><circle cx="408.1" cy="608.6" r="3"/><circle cx="413.8" cy="608.9" r="3"/><circle cx="419.0" cy="609.7" r="3"/><circle cx="432.4" cy="610.0" r="3"/><circle cx="344.0" cy="612.0" r="3"/><circle cx="414.9" cy="613.9" r="3"/><circle cx="386.4" cy="614.2" r="3"/><circle cx="347.8" cy="619.1" r="3"/><circle cx="351.6" cy="617.8" r="3"/><circle cx="382.4" cy="618.4" r="3"/><circle cx="381.8" cy="623.4" r="3"/><circle cx="378.3" cy="626.1" r="3"/><circle cx="398.1" cy="622.6" r="3"/><circle cx="348.3" cy="627.2" r="3"/><circle cx="361.2" cy="628.0" r="3"/><circle cx="409.6" cy="630.0" r="3"/><circle cx="416.1" cy="631.5" r="3"/><circle cx="351.2" cy="634.8" r="3"/><circle cx="369.9" cy="634.4" r="3"/><circle cx="375.7" cy="635.3" r="3"/><circle cx="391.7" cy="635.9" r="3"/><circle cx="415.7" cy="637.6" r="3"/><circle cx="348.9" cy="641.7" r="3"/><circle cx="364.1" cy="642.5" r="3"/><circle cx="383.7" cy="639.4" r="3"/><circle cx="396.9" cy="661.1" r="3"/><circle cx="375.5" cy="664.7" r="3"/><circle cx="367.3" cy="671.1" r="3"/><circle cx="350.1" cy="678.7" r="3"/><circle cx="423.2" cy="674.0" r="3"/></g>
<g class="pt"><circle cx="461.9" cy="475.3" r="3"/><circle cx="457.3" cy="492.7" r="3"/><circle cx="533.5" cy="492.7" r="3"/><circle cx="480.6" cy="498.2" r="3"/><circle cx="527.9" cy="499.7" r="3"/><circle cx="513.4" cy="500.3" r="3"/><circle cx="510.7" cy="503.8" r="3"/><circle cx="500.0" cy="501.5" r="3"/><circle cx="470.0" cy="506.9" r="3"/><circle cx="536.6" cy="505.4" r="3"/><circle cx="455.3" cy="508.4" r="3"/><circle cx="455.8" cy="511.9" r="3"/><circle cx="485.5" cy="511.5" r="3"/><circle cx="530.0" cy="510.4" r="3"/><circle cx="534.3" cy="509.9" r="3"/><circle cx="514.8" cy="512.2" r="3"/><circle cx="518.3" cy="511.5" r="3"/><circle cx="522.4" cy="512.2" r="3"/><circle cx="502.7" cy="515.0" r="3"/><circle cx="506.5" cy="516.0" r="3"/><circle cx="466.0" cy="517.1" r="3"/><circle cx="471.3" cy="520.3" r="3"/><circle cx="487.8" cy="519.1" r="3"/><circle cx="457.0" cy="520.6" r="3"/><circle cx="456.8" cy="524.9" r="3"/><circle cx="466.4" cy="525.2" r="3"/><circle cx="471.0" cy="524.7" r="3"/><circle cx="486.0" cy="523.7" r="3"/><circle cx="496.9" cy="524.4" r="3"/><circle cx="500.0" cy="526.7" r="3"/><circle cx="509.1" cy="525.6" r="3"/><circle cx="510.4" cy="527.5" r="3"/><circle cx="525.5" cy="521.1" r="3"/><circle cx="525.5" cy="524.9" r="3"/><circle cx="535.1" cy="526.7" r="3"/><circle cx="539.9" cy="525.2" r="3"/><circle cx="455.8" cy="530.2" r="3"/><circle cx="477.6" cy="526.7" r="3"/><circle cx="479.9" cy="529.0" r="3"/><circle cx="496.2" cy="530.2" r="3"/><circle cx="503.8" cy="531.7" r="3"/><circle cx="518.3" cy="531.3" r="3"/><circle cx="534.0" cy="530.2" r="3"/><circle cx="462.9" cy="533.6" r="3"/><circle cx="470.7" cy="533.6" r="3"/><circle cx="487.8" cy="533.6" r="3"/><circle cx="490.1" cy="535.1" r="3"/><circle cx="500.0" cy="534.3" r="3"/><circle cx="521.3" cy="533.6" r="3"/><circle cx="529.0" cy="535.9" r="3"/><circle cx="535.1" cy="534.0" r="3"/><circle cx="536.6" cy="535.5" r="3"/><circle cx="542.7" cy="534.0" r="3"/><circle cx="483.2" cy="538.9" r="3"/><circle cx="483.5" cy="542.7" r="3"/><circle cx="494.7" cy="540.4" r="3"/><circle cx="492.8" cy="543.5" r="3"/><circle cx="509.9" cy="540.1" r="3"/><circle cx="514.2" cy="540.1" r="3"/><circle cx="518.3" cy="540.7" r="3"/><circle cx="513.0" cy="545.5" r="3"/><circle cx="523.9" cy="545.8" r="3"/><circle cx="460.3" cy="544.2" r="3"/><circle cx="464.9" cy="545.8" r="3"/><circle cx="471.8" cy="547.0" r="3"/><circle cx="538.9" cy="543.8" r="3"/><circle cx="538.1" cy="547.3" r="3"/><circle cx="504.3" cy="546.5" r="3"/><circle cx="505.3" cy="548.5" r="3"/><circle cx="491.6" cy="549.3" r="3"/><circle cx="513.7" cy="551.1" r="3"/><circle cx="520.9" cy="552.3" r="3"/><circle cx="455.3" cy="551.4" r="3"/><circle cx="535.8" cy="551.1" r="3"/><circle cx="539.6" cy="551.1" r="3"/><circle cx="459.9" cy="554.9" r="3"/><circle cx="466.4" cy="554.5" r="3"/><circle cx="474.1" cy="554.5" r="3"/><circle cx="478.6" cy="554.1" r="3"/><circle cx="481.7" cy="554.5" r="3"/><circle cx="490.8" cy="554.5" r="3"/><circle cx="490.1" cy="558.0" r="3"/><circle cx="462.6" cy="558.3" r="3"/><circle cx="469.5" cy="559.8" r="3"/><circle cx="477.1" cy="561.5" r="3"/><circle cx="502.0" cy="560.2" r="3"/><circle cx="516.3" cy="559.2" r="3"/><circle cx="521.8" cy="556.4" r="3"/><circle cx="534.6" cy="559.9" r="3"/><circle cx="519.8" cy="566.7" r="3"/><circle cx="530.9" cy="566.3" r="3"/><circle cx="539.3" cy="570.6" r="3"/><circle cx="484.4" cy="576.6" r="3"/><circle cx="465.2" cy="582.8" r="3"/><circle cx="501.1" cy="585.1" r="3"/><circle cx="539.2" cy="602.7" r="3"/><circle cx="486.1" cy="533.8" r="3"/><circle cx="492.0" cy="533.6" r="3"/><circle cx="532.6" cy="527.1" r="3"/></g>
<g class="pt"><circle cx="580.2" cy="491.6" r="3"/><circle cx="575.2" cy="506.0" r="3"/><circle cx="637.4" cy="504.5" r="3"/><circle cx="650.9" cy="508.3" r="3"/><circle cx="601.8" cy="510.6" r="3"/><circle cx="600.0" cy="512.8" r="3"/><circle cx="649.9" cy="514.3" r="3"/><circle cx="620.6" cy="516.0" r="3"/><circle cx="627.0" cy="517.8" r="3"/><circle cx="636.1" cy="515.8" r="3"/><circle cx="592.7" cy="517.8" r="3"/><circle cx="579.0" cy="520.4" r="3"/><circle cx="587.4" cy="523.4" r="3"/><circle cx="595.3" cy="523.9" r="3"/><circle cx="647.1" cy="522.4" r="3"/><circle cx="633.6" cy="525.1" r="3"/><circle cx="643.8" cy="527.7" r="3"/><circle cx="650.2" cy="530.3" r="3"/><circle cx="575.5" cy="528.0" r="3"/><circle cx="572.6" cy="530.7" r="3"/><circle cx="565.2" cy="528.5" r="3"/><circle cx="585.1" cy="530.4" r="3"/><circle cx="603.8" cy="535.6" r="3"/><circle cx="619.4" cy="536.1" r="3"/><circle cx="572.4" cy="541.1" r="3"/><circle cx="581.7" cy="544.2" r="3"/><circle cx="607.2" cy="542.6" r="3"/><circle cx="612.5" cy="541.4" r="3"/><circle cx="611.8" cy="543.2" r="3"/><circle cx="636.9" cy="541.1" r="3"/><circle cx="635.7" cy="543.7" r="3"/><circle cx="632.0" cy="543.7" r="3"/><circle cx="644.1" cy="541.1" r="3"/><circle cx="652.5" cy="542.2" r="3"/><circle cx="598.8" cy="546.4" r="3"/><circle cx="628.8" cy="547.1" r="3"/><circle cx="577.8" cy="549.8" r="3"/><circle cx="565.7" cy="550.6" r="3"/><circle cx="589.6" cy="551.6" r="3"/><circle cx="605.3" cy="553.6" r="3"/><circle cx="641.0" cy="549.5" r="3"/><circle cx="645.3" cy="551.3" r="3"/><circle cx="569.5" cy="553.6" r="3"/><circle cx="568.3" cy="557.9" r="3"/><circle cx="585.1" cy="556.7" r="3"/><circle cx="595.3" cy="556.4" r="3"/><circle cx="643.5" cy="555.9" r="3"/><circle cx="630.8" cy="559.3" r="3"/><circle cx="605.7" cy="559.7" r="3"/><circle cx="616.3" cy="560.8" r="3"/><circle cx="572.9" cy="562.0" r="3"/><circle cx="611.0" cy="564.3" r="3"/><circle cx="618.6" cy="564.3" r="3"/><circle cx="601.8" cy="565.8" r="3"/><circle cx="572.1" cy="567.3" r="3"/><circle cx="630.1" cy="564.3" r="3"/><circle cx="633.9" cy="565.8" r="3"/><circle cx="629.3" cy="568.9" r="3"/><circle cx="642.6" cy="565.1" r="3"/><circle cx="652.9" cy="564.3" r="3"/><circle cx="637.7" cy="569.9" r="3"/><circle cx="646.8" cy="568.9" r="3"/><circle cx="649.9" cy="570.4" r="3"/><circle cx="583.5" cy="571.1" r="3"/><circle cx="590.4" cy="571.9" r="3"/><circle cx="587.1" cy="573.4" r="3"/><circle cx="598.0" cy="570.8" r="3"/><circle cx="608.7" cy="573.0" r="3"/><circle cx="585.1" cy="576.5" r="3"/><circle cx="616.0" cy="576.2" r="3"/><circle cx="646.1" cy="576.5" r="3"/><circle cx="649.9" cy="576.0" r="3"/><circle cx="654.1" cy="573.9" r="3"/><circle cx="568.8" cy="580.6" r="3"/><circle cx="573.9" cy="580.8" r="3"/><circle cx="566.3" cy="584.9" r="3"/><circle cx="584.0" cy="582.6" r="3"/><circle cx="584.0" cy="585.6" r="3"/><circle cx="599.3" cy="583.3" r="3"/><circle cx="622.1" cy="583.7" r="3"/><circle cx="641.9" cy="586.9" r="3"/><circle cx="633.9" cy="591.7" r="3"/><circle cx="612.1" cy="594.3" r="3"/><circle cx="602.9" cy="595.9" r="3"/><circle cx="647.1" cy="595.2" r="3"/><circle cx="601.4" cy="601.3" r="3"/><circle cx="606.9" cy="600.6" r="3"/><circle cx="579.0" cy="603.9" r="3"/><circle cx="646.1" cy="603.9" r="3"/><circle cx="633.1" cy="606.2" r="3"/><circle cx="627.3" cy="612.1" r="3"/><circle cx="616.3" cy="623.2" r="3"/><circle cx="639.5" cy="630.4" r="3"/><circle cx="624.0" cy="642.6" r="3"/><circle cx="569.4" cy="571.3" r="3"/><circle cx="640.3" cy="572.6" r="3"/><circle cx="604.2" cy="571.5" r="3"/><circle cx="644.1" cy="549.7" r="3"/><circle cx="629.4" cy="568.1" r="3"/></g>
<g class="pt"><circle cx="728.3" cy="430.3" r="3"/><circle cx="739.2" cy="431.4" r="3"/><circle cx="710.8" cy="444.5" r="3"/><circle cx="705.6" cy="451.2" r="3"/><circle cx="724.2" cy="452.9" r="3"/><circle cx="739.9" cy="453.2" r="3"/><circle cx="736.9" cy="457.5" r="3"/><circle cx="757.3" cy="454.0" r="3"/><circle cx="724.5" cy="468.5" r="3"/><circle cx="683.4" cy="473.0" r="3"/><circle cx="686.6" cy="472.6" r="3"/><circle cx="689.5" cy="475.6" r="3"/><circle cx="752.9" cy="475.3" r="3"/><circle cx="682.8" cy="479.6" r="3"/><circle cx="678.8" cy="482.9" r="3"/><circle cx="717.4" cy="481.9" r="3"/><circle cx="737.2" cy="479.1" r="3"/><circle cx="741.5" cy="479.1" r="3"/><circle cx="738.7" cy="483.7" r="3"/><circle cx="744.4" cy="483.7" r="3"/><circle cx="744.8" cy="484.8" r="3"/><circle cx="736.0" cy="486.4" r="3"/><circle cx="734.1" cy="488.3" r="3"/><circle cx="762.8" cy="485.7" r="3"/><circle cx="762.3" cy="486.4" r="3"/><circle cx="682.0" cy="490.1" r="3"/><circle cx="697.5" cy="492.1" r="3"/><circle cx="725.8" cy="491.3" r="3"/><circle cx="726.8" cy="491.6" r="3"/><circle cx="753.5" cy="491.6" r="3"/><circle cx="680.0" cy="498.6" r="3"/><circle cx="677.0" cy="500.5" r="3"/><circle cx="682.6" cy="505.8" r="3"/><circle cx="677.4" cy="507.8" r="3"/><circle cx="691.9" cy="508.6" r="3"/><circle cx="686.9" cy="510.7" r="3"/><circle cx="684.9" cy="512.7" r="3"/><circle cx="688.9" cy="516.0" r="3"/><circle cx="680.0" cy="511.9" r="3"/><circle cx="702.6" cy="512.7" r="3"/><circle cx="709.4" cy="513.4" r="3"/><circle cx="712.8" cy="514.7" r="3"/><circle cx="724.2" cy="513.1" r="3"/><circle cx="737.2" cy="504.3" r="3"/><circle cx="736.9" cy="508.9" r="3"/><circle cx="735.7" cy="512.2" r="3"/><circle cx="762.3" cy="504.0" r="3"/><circle cx="754.3" cy="515.0" r="3"/><circle cx="761.1" cy="521.1" r="3"/><circle cx="675.9" cy="524.1" r="3"/><circle cx="718.9" cy="524.4" r="3"/><circle cx="730.6" cy="522.6" r="3"/><circle cx="734.9" cy="521.4" r="3"/><circle cx="731.4" cy="526.9" r="3"/><circle cx="749.7" cy="525.2" r="3"/><circle cx="742.2" cy="527.6" r="3"/><circle cx="744.1" cy="530.5" r="3"/><circle cx="740.2" cy="533.7" r="3"/><circle cx="695.7" cy="529.9" r="3"/><circle cx="678.0" cy="533.6" r="3"/><circle cx="689.9" cy="535.5" r="3"/><circle cx="704.1" cy="534.0" r="3"/><circle cx="714.3" cy="532.2" r="3"/><circle cx="722.2" cy="536.0" r="3"/><circle cx="732.2" cy="536.3" r="3"/><circle cx="676.2" cy="538.6" r="3"/><circle cx="697.5" cy="538.6" r="3"/><circle cx="697.9" cy="541.6" r="3"/><circle cx="729.6" cy="540.1" r="3"/><circle cx="752.9" cy="539.7" r="3"/><circle cx="758.5" cy="539.7" r="3"/><circle cx="705.6" cy="542.4" r="3"/><circle cx="711.7" cy="541.6" r="3"/><circle cx="736.4" cy="542.7" r="3"/><circle cx="746.3" cy="543.2" r="3"/><circle cx="683.1" cy="549.5" r="3"/><circle cx="695.0" cy="549.5" r="3"/><circle cx="698.8" cy="547.5" r="3"/><circle cx="757.0" cy="546.4" r="3"/><circle cx="710.8" cy="553.0" r="3"/><circle cx="710.5" cy="557.9" r="3"/><circle cx="715.8" cy="558.9" r="3"/><circle cx="728.0" cy="558.3" r="3"/><circle cx="732.2" cy="555.6" r="3"/><circle cx="733.1" cy="555.6" r="3"/><circle cx="756.2" cy="557.1" r="3"/><circle cx="762.8" cy="558.9" r="3"/><circle cx="761.6" cy="562.4" r="3"/><circle cx="682.3" cy="563.5" r="3"/><circle cx="746.6" cy="563.5" r="3"/><circle cx="720.4" cy="566.3" r="3"/><circle cx="731.4" cy="570.1" r="3"/><circle cx="685.3" cy="575.1" r="3"/><circle cx="684.1" cy="582.6" r="3"/><circle cx="704.1" cy="589.9" r="3"/><circle cx="758.8" cy="600.6" r="3"/><circle cx="733.7" cy="516.9" r="3"/><circle cx="703.4" cy="508.4" r="3"/><circle cx="698.4" cy="495.3" r="3"/><circle cx="727.7" cy="505.8" r="3"/><circle cx="720.4" cy="566.3" r="3"/><circle cx="761.1" cy="521.1" r="3"/></g>
<path class="bx" d="M166.3 407.1V434.6M166.3 463.8V505.6"/>
<rect class="bx" x="124.0" y="434.6" width="84.1" height="29.2"/>
<path class="md" d="M124.0 451.6H208.1"/>
<circle class="ol" cx="166.3" cy="391.7" r="3.15"/>
<path class="bx" d="M277.0 458.8V500.3M277.0 531.8V570.8"/>
<rect class="bx" x="235.0" y="500.3" width="83.6" height="31.5"/>
<path class="md" d="M235.0 517.0H318.6"/>
<circle class="ol" cx="277.0" cy="596.8" r="3.15"/>
<path class="bx" d="M387.8 543.4V583.4M387.8 614.0V646.5"/>
<rect class="bx" x="346.3" y="583.4" width="83.3" height="30.6"/>
<path class="md" d="M346.3 603.0H429.6"/>
<circle class="ol" cx="387.8" cy="529.6" r="3.15"/>
<circle class="ol" cx="387.8" cy="661.7" r="3.15"/>
<circle class="ol" cx="387.8" cy="665.2" r="3.15"/>
<circle class="ol" cx="387.8" cy="672.0" r="3.15"/>
<circle class="ol" cx="387.8" cy="675.5" r="3.15"/>
<circle class="ol" cx="387.8" cy="679.3" r="3.15"/>
<path class="bx" d="M498.6 493.1V521.3M498.6 550.9V582.2"/>
<rect class="bx" x="456.8" y="521.3" width="83.3" height="29.6"/>
<path class="md" d="M456.8 534.0H540.1"/>
<circle class="ol" cx="498.6" cy="476.3" r="3.15"/>
<circle class="ol" cx="498.6" cy="603.3" r="3.15"/>
<path class="bx" d="M609.4 491.8V540.8M609.4 574.5V622.5"/>
<rect class="bx" x="568.1" y="540.8" width="83.0" height="33.7"/>
<path class="md" d="M568.1 559.2H651.1"/>
<circle class="ol" cx="609.4" cy="631.1" r="3.15"/>
<circle class="ol" cx="609.4" cy="643.0" r="3.15"/>
<path class="bx" d="M720.1 431.0V489.8M720.1 542.9V600.5"/>
<rect class="bx" x="678.9" y="489.8" width="83.6" height="53.1"/>
<path class="md" d="M678.9 520.9H762.5"/>
</g>
<rect x="99.8" y="376.8" width="686.8000000000001" height="315.59999999999997" fill="none" stroke="#5a5a5a" stroke-width="1.25"/>
<rect x="99.8" y="351.1" width="686.8000000000001" height="25.69999999999999" fill="#d9d9d9" stroke="#505050" stroke-width="1.3"/>
<path d="M99.2 376.8H787.2" stroke="#333" stroke-width="1.8" fill="none"/>
<text class="ax" x="444.2" y="372.9" text-anchor="middle" font-size="24" style="fill:#1a1a1a;stroke:#1a1a1a;stroke-width:.25">AUROC</text>
<path class="tk" d="M95.3 297.4H99.8"/>
<text class="ax" x="93.3" y="306.6" text-anchor="end" font-size="23.5" style="stroke:#000;stroke-width:.3">0.3</text>
<path class="tk" d="M95.3 206.6H99.8"/>
<text class="ax" x="93.3" y="215.8" text-anchor="end" font-size="23.5" style="stroke:#000;stroke-width:.3">0.4</text>
<path class="tk" d="M95.3 116.0H99.8"/>
<text class="ax" x="93.3" y="125.2" text-anchor="end" font-size="23.5" style="stroke:#000;stroke-width:.3">0.5</text>
<path class="tk" d="M95.3 654.2H99.8"/>
<text class="ax" x="93.9" y="663.4" text-anchor="end" font-size="23.5" style="stroke:#000;stroke-width:.3">0.5</text>
<path class="tk" d="M95.3 573.8H99.8"/>
<text class="ax" x="93.9" y="583.0" text-anchor="end" font-size="23.5" style="stroke:#000;stroke-width:.3">0.6</text>
<path class="tk" d="M95.3 493.4H99.8"/>
<text class="ax" x="93.9" y="502.6" text-anchor="end" font-size="23.5" style="stroke:#000;stroke-width:.3">0.7</text>
<path class="tk" d="M95.3 413.0H99.8"/>
<text class="ax" x="93.9" y="422.2" text-anchor="end" font-size="23.5" style="stroke:#000;stroke-width:.3">0.8</text>
<path class="tk" d="M166.3 692.4V696.9"/>
<text class="xl" text-anchor="end" transform="translate(179.2 706.5) rotate(-65)">GRNTE</text>
<path class="tk" d="M277.0 692.4V696.9"/>
<text class="xl" text-anchor="end" transform="translate(289.9 705.0) rotate(-65)">BLARS</text>
<path class="tk" d="M387.8 692.4V696.9"/>
<text class="xl" text-anchor="end" transform="translate(400.4 706.2) rotate(-65)">dynGENIE3</text>
<path class="tk" d="M498.6 692.4V696.9"/>
<text class="xl" text-anchor="end" transform="translate(511.5 706.5) rotate(-65)">MRNET</text>
<path class="tk" d="M609.4 692.4V696.9"/>
<text class="xl" text-anchor="end" transform="translate(624.3 704.4) rotate(-65)">TDARACNE</text>
<path class="tk" d="M720.1 692.4V696.9"/>
<text class="xl" text-anchor="end" transform="translate(737.1 702.5) rotate(-65)">SWING</text>
<text class="ax" font-size="41.6" text-anchor="middle" style="stroke:#000;stroke-width:.35" transform="translate(31.0 358.2) rotate(-90) scale(1 1.022)">Value</text>
</svg></body></html>
